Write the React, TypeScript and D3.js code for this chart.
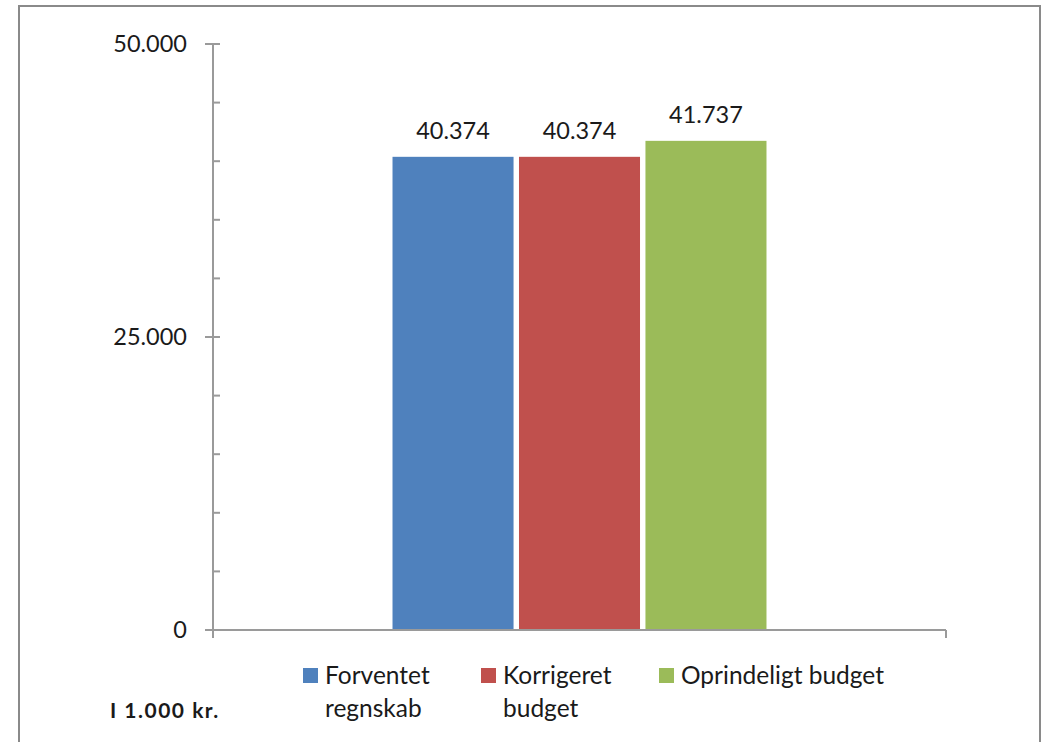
import React, { useRef, useEffect } from "react";
import * as d3 from "d3";

const categories = ["Total"];
const seriesNames = ["Forventet regnskab", "Korrigeret budget", "Oprindeligt budget"];
const seriesValues = [40374, 40374, 41737];
const seriesColors = ["#4f81bd", "#c0504d", "#9bbb59"];
const legendLines = [["Forventet", "regnskab"], ["Korrigeret", "budget"], ["Oprindeligt budget"]];
const majorTicks = [0, 25000, 50000];
const unitLabel = "I 1.000 kr.";

const fmt = (v: number) => d3.format(",")(v).replace(/,/g, ".");

const App: React.FC = () => {
    const svgRef = useRef<SVGSVGElement>(null);

    useEffect(() => {
        const svgElement = svgRef.current;
        if (!svgElement) return;

        const width = 1044;
        const height = 742;
        const plot = { left: 213, right: 946, top: 44, bottom: 630 };
        const axisColor = "#9a9a9a";
        const font = "Lato, 'Open Sans', sans-serif";

        d3.select(svgElement).selectAll("*").remove();
        const svg = d3.select(svgElement).attr("width", width).attr("height", height);

        // outer frame (runs off the bottom of the picture)
        svg.append("rect")
            .attr("x", 19).attr("y", 6)
            .attr("width", 1021).attr("height", 760)
            .attr("fill", "none")
            .attr("stroke", "#8a8a8a")
            .attr("stroke-width", 2);

        const y = d3.scaleLinear().domain([0, 50000]).range([plot.bottom, plot.top]);
        const x0 = d3.scaleBand().domain(categories).range([plot.left, plot.right]).paddingOuter(0.48);
        const x1 = d3.scaleBand().domain(seriesNames).range([0, x0.bandwidth()]).paddingInner(0.043);

        // bars
        const group = svg.append("g");
        categories.forEach((cat) => {
            seriesNames.forEach((name, i) => {
                const bx = (x0(cat) ?? 0) + (x1(name) ?? 0);
                group.append("rect")
                    .attr("x", bx)
                    .attr("y", y(seriesValues[i]))
                    .attr("width", x1.bandwidth())
                    .attr("height", y(0) - y(seriesValues[i]))
                    .attr("fill", seriesColors[i]);
                group.append("text")
                    .attr("x", bx + x1.bandwidth() / 2)
                    .attr("y", y(seriesValues[i]) - 18)
                    .attr("text-anchor", "middle")
                    .attr("font-family", font)
                    .attr("font-size", 23.5)
                    .attr("fill", "#1a1a1a")
                    .text(fmt(seriesValues[i]));
            });
        });

        // y axis
        const yAxis = svg.append("g");
        yAxis.append("line")
            .attr("x1", plot.left).attr("x2", plot.left)
            .attr("y1", plot.top).attr("y2", plot.bottom + 8)
            .attr("stroke", axisColor).attr("stroke-width", 2);
        d3.range(0, 50001, 5000).forEach((v) => {
            const major = majorTicks.includes(v);
            yAxis.append("line")
                .attr("x1", major ? plot.left - 8 : plot.left)
                .attr("x2", plot.left + 7)
                .attr("y1", y(v)).attr("y2", y(v))
                .attr("stroke", axisColor).attr("stroke-width", 2);
        });
        majorTicks.forEach((v) => {
            yAxis.append("text")
                .attr("x", plot.left - 26)
                .attr("y", y(v))
                .attr("dy", "0.36em")
                .attr("text-anchor", "end")
                .attr("font-family", font)
                .attr("font-size", 23.5)
                .attr("fill", "#1a1a1a")
                .text(fmt(v));
        });

        // x axis
        svg.append("line")
            .attr("x1", plot.left).attr("x2", plot.right)
            .attr("y1", plot.bottom).attr("y2", plot.bottom)
            .attr("stroke", axisColor).attr("stroke-width", 2);
        svg.append("line")
            .attr("x1", plot.right).attr("x2", plot.right)
            .attr("y1", plot.bottom).attr("y2", plot.bottom + 8)
            .attr("stroke", axisColor).attr("stroke-width", 2);

        // legend
        const legendX = d3.scalePoint<number>().domain([0, 1, 2]).range([303, 659]);
        const legend = svg.append("g");
        seriesNames.forEach((_, i) => {
            const lx = legendX(i) ?? 0;
            legend.append("rect")
                .attr("x", lx).attr("y", 668)
                .attr("width", 15).attr("height", 15)
                .attr("fill", seriesColors[i]);
            const t = legend.append("text")
                .attr("font-family", font)
                .attr("font-size", 24.5)
                .attr("fill", "#1a1a1a");
            legendLines[i].forEach((line, j) => {
                t.append("tspan")
                    .attr("x", lx + 22)
                    .attr("y", 684 + j * 33)
                    .text(line);
            });
        });

        svg.append("text")
            .attr("x", 110).attr("y", 718)
            .attr("font-family", font)
            .attr("font-size", 21)
            .attr("font-weight", "bold")
            .attr("letter-spacing", 1.5)
            .attr("fill", "#1a1a1a")
            .text(unitLabel);
    }, []);

    return <svg ref={svgRef} style={{ position: "absolute", left: 0, top: 0, background: "#fff" }}></svg>;
};

export default App;
